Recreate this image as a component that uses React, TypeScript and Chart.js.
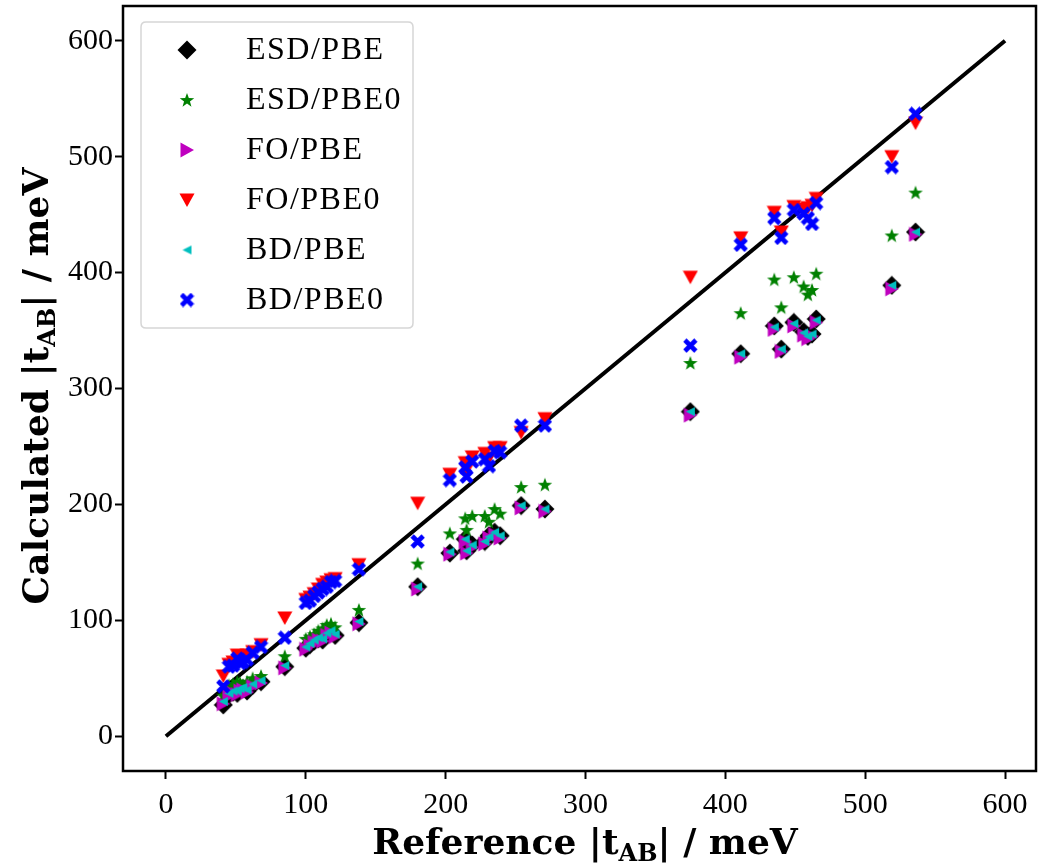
import React, { useEffect, useRef } from "react";
import { Chart, registerables } from "chart.js";

Chart.register(...registerables);

const referenceValues = [41, 45, 48, 51, 53, 55, 58, 62, 68, 85, 100, 103, 106, 109, 112, 115, 118, 121, 138, 180, 203, 214, 215, 219, 228, 231, 235, 239, 254, 271, 375, 411, 435, 440, 449, 456, 459, 462, 465, 519, 536];
const esdPbe = [27, 36, 38, 37, 40, 41, 39, 44, 47, 60, 76, 79, 82, 84, 83, 88, 90, 87, 98, 129, 158, 170, 160, 165, 168, 173, 176, 173, 199, 196, 280, 330, 354, 334, 357, 349, 345, 347, 360, 389, 435];
const esdPbe0 = [35, 44, 45, 47, 46, 44, 47, 50, 52, 69, 84, 86, 88, 91, 93, 96, 97, 94, 109, 149, 175, 188, 178, 190, 190, 185, 196, 192, 215, 217, 322, 365, 394, 370, 396, 388, 381, 385, 399, 432, 469];
const foPbe = [28, 35, 37, 36, 39, 40, 38, 43, 46, 59, 75, 78, 81, 83, 82, 87, 89, 86, 97, 127, 157, 168, 158, 163, 166, 171, 174, 171, 197, 194, 277, 327, 351, 332, 354, 346, 343, 345, 357, 386, 433];
const foPbe0 = [52, 62, 64, 70, 69, 66, 70, 73, 79, 102, 118, 120, 123, 127, 131, 133, 135, 136, 148, 201, 226, 236, 230, 241, 244, 240, 249, 249, 262, 274, 396, 430, 452, 435, 457, 455, 456, 458, 464, 500, 529];
const bdPbe = [30, 37, 39, 39, 41, 42, 40, 45, 48, 61, 77, 80, 83, 85, 84, 89, 91, 88, 99, 129, 159, 170, 160, 165, 168, 172, 176, 173, 199, 196, 280, 330, 353, 334, 356, 348, 345, 347, 359, 389, 435];
const bdPbe0 = [43, 60, 61, 67, 63, 64, 66, 72, 77, 85, 115, 117, 121, 124, 127, 129, 133, 134, 144, 168, 221, 232, 224, 237, 239, 233, 246, 245, 268, 268, 337, 424, 447, 430, 454, 451, 447, 442, 460, 491, 537];
const seriesNames = ["ESD/PBE", "ESD/PBE0", "FO/PBE", "FO/PBE0", "BD/PBE", "BD/PBE0"];
const seriesColors = ["#000000", "#008000", "#bf00bf", "#ff0000", "#00bfbf", "#0000ff"];
const diagonalX = [0, 600];
const axisTicks = [0, 100, 200, 300, 400, 500, 600];

function makeCanvas(w: number, h: number, draw: (ctx: CanvasRenderingContext2D) => void) {
  const c = document.createElement("canvas");
  c.width = w;
  c.height = h;
  const ctx = c.getContext("2d")!;
  draw(ctx);
  return c;
}

function makeMarkers() {
  const diamond = makeCanvas(20, 20, (ctx) => {
    ctx.fillStyle = seriesColors[0];
    ctx.beginPath();
    ctx.moveTo(10, 0.5);
    ctx.lineTo(19.5, 10);
    ctx.lineTo(10, 19.5);
    ctx.lineTo(0.5, 10);
    ctx.closePath();
    ctx.fill();
  });
  const star = makeCanvas(16, 16, (ctx) => {
    ctx.fillStyle = seriesColors[1];
    ctx.beginPath();
    const cx = 8, cy = 8.5, ro = 7.6, ri = 3.1;
    for (let i = 0; i < 10; i++) {
      const r = i % 2 === 0 ? ro : ri;
      const a = -Math.PI / 2 + (i * Math.PI) / 5;
      const px = cx + r * Math.cos(a);
      const py = cy + r * Math.sin(a);
      if (i === 0) ctx.moveTo(px, py);
      else ctx.lineTo(px, py);
    }
    ctx.closePath();
    ctx.fill();
  });
  const right = makeCanvas(16, 16, (ctx) => {
    ctx.fillStyle = seriesColors[2];
    ctx.beginPath();
    ctx.moveTo(1.5, 0.5);
    ctx.lineTo(15, 8);
    ctx.lineTo(1.5, 15.5);
    ctx.closePath();
    ctx.fill();
  });
  const down = makeCanvas(16, 16, (ctx) => {
    ctx.fillStyle = seriesColors[3];
    ctx.beginPath();
    ctx.moveTo(0.5, 1.5);
    ctx.lineTo(15.5, 1.5);
    ctx.lineTo(8, 15);
    ctx.closePath();
    ctx.fill();
  });
  const left = makeCanvas(11, 11, (ctx) => {
    ctx.fillStyle = seriesColors[4];
    ctx.beginPath();
    ctx.moveTo(10, 1);
    ctx.lineTo(1, 5.5);
    ctx.lineTo(10, 10);
    ctx.closePath();
    ctx.fill();
  });
  const cross = makeCanvas(15, 15, (ctx) => {
    ctx.strokeStyle = seriesColors[5];
    ctx.lineWidth = 4.6;
    ctx.lineCap = "butt";
    ctx.beginPath();
    ctx.moveTo(2, 2);
    ctx.lineTo(13, 13);
    ctx.moveTo(13, 2);
    ctx.lineTo(2, 13);
    ctx.stroke();
  });
  return [diamond, star, right, down, left, cross];
}

function zeroPadding(s: any) {
  s.paddingLeft = 0;
  s.paddingRight = 0;
  s.paddingTop = 0;
  s.paddingBottom = 0;
}

export default function App() {
  const ref = useRef<HTMLCanvasElement>(null);

  useEffect(() => {
    const canvas = ref.current;
    if (!canvas) return;
    const markers = makeMarkers();
    const seriesValues = [esdPbe, esdPbe0, foPbe, foPbe0, bdPbe, bdPbe0];

    const datasets: any[] = seriesValues.map((vals, k) => ({
      label: seriesNames[k],
      data: referenceValues.map((x, i) => ({ x, y: vals[i] })),
      pointStyle: markers[k],
      pointRadius: 5,
      backgroundColor: seriesColors[k],
      borderColor: seriesColors[k],
      showLine: false,
      order: 6 - k,
    }));
    datasets.push({
      label: "diagonal",
      data: diagonalX.map((v) => ({ x: v, y: v })),
      showLine: true,
      pointRadius: 0,
      borderColor: "#000",
      borderWidth: 4,
      order: 10,
    });

    const framePlugin = {
      id: "frameAndText",
      afterDraw(chart: any) {
        const ctx = chart.ctx as CanvasRenderingContext2D;
        const a = chart.chartArea;
        ctx.save();
        ctx.strokeStyle = "#000";
        ctx.lineWidth = 2.5;
        const frameRight = Math.min(a.right + 3, chart.width - 2);
        ctx.strokeRect(a.left, a.top, frameRight - a.left, a.bottom - a.top);

        // legend
        const lx = 141, ly = 22, lw = 272, lh = 306, r = 5;
        ctx.beginPath();
        ctx.moveTo(lx + r, ly);
        ctx.lineTo(lx + lw - r, ly);
        ctx.quadraticCurveTo(lx + lw, ly, lx + lw, ly + r);
        ctx.lineTo(lx + lw, ly + lh - r);
        ctx.quadraticCurveTo(lx + lw, ly + lh, lx + lw - r, ly + lh);
        ctx.lineTo(lx + r, ly + lh);
        ctx.quadraticCurveTo(lx, ly + lh, lx, ly + lh - r);
        ctx.lineTo(lx, ly + r);
        ctx.quadraticCurveTo(lx, ly, lx + r, ly);
        ctx.closePath();
        ctx.fillStyle = "rgba(255,255,255,0.8)";
        ctx.fill();
        ctx.strokeStyle = "#d6d6d6";
        ctx.lineWidth = 1.5;
        ctx.stroke();
        ctx.font = "32px 'Liberation Serif'";
        (ctx as any).letterSpacing = "1.5px";
        ctx.fillStyle = "#000";
        ctx.textBaseline = "middle";
        ctx.textAlign = "left";
        for (let k = 0; k < seriesNames.length; k++) {
          const cy = 50 + k * 50;
          const m = markers[k];
          ctx.drawImage(m, 187 - m.width / 2, cy - m.height / 2);
          ctx.fillText(seriesNames[k], 246, cy + 1);
        }
        (ctx as any).letterSpacing = "0px";

        // x axis title
        const big = "bold 36px 'DejaVu Serif'";
        const small = "bold 24px 'DejaVu Serif'";
        const parts: [string, string, number][] = [
          ["Reference |t", big, 0],
          ["AB", small, 7],
          ["| / meV", big, 0],
        ];
        const widths = parts.map(([t, f]) => {
          ctx.font = f;
          return ctx.measureText(t).width;
        });
        const total = widths.reduce((s, w) => s + w, 0);
        ctx.textBaseline = "alphabetic";
        let x0 = 585 - total / 2;
        parts.forEach(([t, f, dy], i) => {
          ctx.font = f;
          ctx.fillText(t, x0, 854 + dy);
          x0 += widths[i];
        });

        // y axis title
        const yparts: [string, string, number][] = [
          ["Calculated |t", big, 0],
          ["AB", small, 7],
          ["| / meV", big, 0],
        ];
        const yw = yparts.map(([t, f]) => {
          ctx.font = f;
          return ctx.measureText(t).width;
        });
        const ytotal = yw.reduce((s, w) => s + w, 0);
        ctx.translate(48, 386);
        ctx.rotate(-Math.PI / 2);
        let y0 = -ytotal / 2;
        yparts.forEach(([t, f, dy], i) => {
          ctx.font = f;
          ctx.fillText(t, y0, dy);
          y0 += yw[i];
        });
        ctx.restore();
      },
    };

    const tickFont = { family: "'Liberation Serif'", size: 30 };
    const chart = new Chart(canvas, {
      type: "scatter",
      data: { datasets },
      options: {
        animation: false,
        responsive: false,
        events: [],
        layout: { padding: { top: 6, right: 1, left: 0, bottom: 0 } },
        plugins: { legend: { display: false }, tooltip: { enabled: false } },
        scales: {
          x: {
            type: "linear",
            min: -30.7,
            max: 620,
            afterFit: (s: any) => {
              s.height = 92;
              zeroPadding(s);
            },
            afterBuildTicks: (s: any) => {
              s.ticks = axisTicks.map((v) => ({ value: v }));
            },
            ticks: { color: "#000", font: tickFont, padding: 8, maxRotation: 0, autoSkip: false },
            grid: { drawOnChartArea: false, drawTicks: true, tickLength: 8, tickWidth: 2, tickColor: "#000" },
            border: { display: false },
          },
          y: {
            type: "linear",
            min: -30,
            max: 630,
            afterFit: (s: any) => {
              s.width = 123;
              zeroPadding(s);
            },
            afterBuildTicks: (s: any) => {
              s.ticks = axisTicks.map((v) => ({ value: v }));
            },
            ticks: { color: "#000", font: tickFont, padding: 2, autoSkip: false },
            grid: { drawOnChartArea: false, drawTicks: true, tickLength: 8, tickWidth: 2, tickColor: "#000" },
            border: { display: false },
          },
        },
      },
      plugins: [framePlugin],
    });
    return () => chart.destroy();
  }, []);

  return (
    <div style={{ position: "absolute", left: 0, top: 0, width: 1039, height: 863, background: "#fff" }}>
      <canvas ref={ref} width={1039} height={863} style={{ width: 1039, height: 863, display: "block" }} />
    </div>
  );
}
